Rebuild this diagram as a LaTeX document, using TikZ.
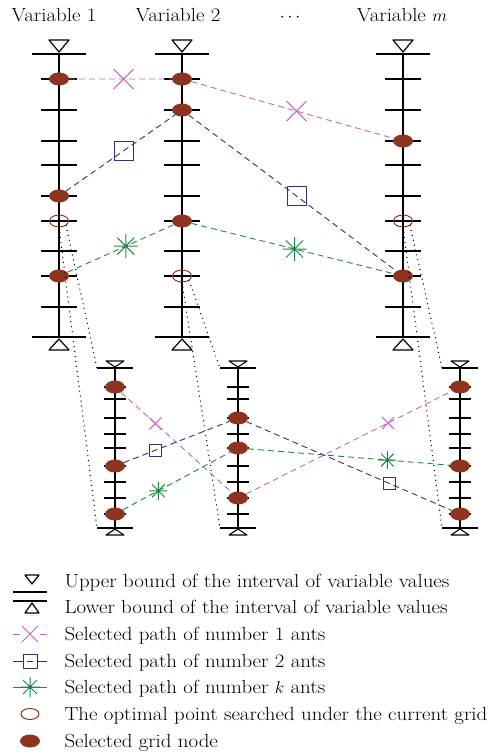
\documentclass[tikz,border=0pt]{standalone}
\usepackage{fontspec}
\setmainfont{Latin Modern Roman}[FakeStretch=1.1]
\usetikzlibrary{shapes.geometric}
\definecolor{gridbrown}{RGB}{140,52,32}
\definecolor{antpink}{RGB}{200,100,190}
\definecolor{antblue}{RGB}{45,45,135}
\definecolor{antgreen}{RGB}{30,135,70}
\begin{document}
\begin{tikzpicture}[x=1pt, y=-1pt, line join=round, font=\fontsize{19}{21}\selectfont,
	selnode/.style={ellipse, fill=gridbrown, minimum width=20pt, minimum height=13pt, inner sep=0pt},
	optnode/.style={ellipse, draw=gridbrown, line width=1pt, minimum width=19pt, minimum height=12pt, inner sep=0pt},
	pathA/.style={antpink, line width=0.9pt, dash pattern=on 6pt off 4pt},
	pathB/.style={antblue, line width=0.9pt, dash pattern=on 6pt off 4pt},
	pathK/.style={antgreen, line width=0.9pt, dash pattern=on 6pt off 4pt},
	bounds/.style={line width=1.4pt, line cap=round, dash pattern=on 0pt off 5pt},
	antx/.pic={\draw[antpink, solid, line width=1pt] (-#1pt,-#1pt) -- (#1pt,#1pt) (-#1pt,#1pt) -- (#1pt,-#1pt);},
	antsq/.pic={\draw[antblue, solid, line width=1pt] (-#1pt,-#1pt) rectangle (#1pt,#1pt);},
	antstar/.pic={\draw[antgreen, solid, line width=1pt] (-#1pt,0pt) -- (#1pt,0pt) (0pt,-#1pt) -- (0pt,#1pt)
		(-0.71*#1pt,-0.71*#1pt) -- (0.71*#1pt,0.71*#1pt) (-0.71*#1pt,0.71*#1pt) -- (0.71*#1pt,-0.71*#1pt);}]
	\useasboundingbox (0,0) rectangle (489,754);
	\node[anchor=base] (v1) at (54,22) {Variable 1};
	\node[anchor=base] (v2) at (178,22) {Variable 2};
	\node[anchor=base] (vdots) at (290,22) {$\cdots$};
	\node[anchor=base] (vm) at (402,22) {Variable $m$};
	% top grid
	\foreach \x/\n in {59/1,182/2,403/m} {
		\draw[line width=1.6pt] (\x,54) -- (\x,337);
		\draw[line width=2pt] (\x-27,54) -- (\x+27,54) (\x-27,337) -- (\x+27,337);
		\foreach \y in {79,110,141,165,196,221,251,276,307}
			\draw[line width=1.6pt] (\x-18,\y) -- (\x+18,\y);
		\draw[line width=1.2pt] (\x-10,40) -- (\x+10,40) -- (\x,52) -- cycle;
		\draw[line width=1.2pt] (\x,339) -- (\x+10,350) -- (\x-10,350) -- cycle;
	}
	% refined grid
	\foreach \x/\n in {115/1,238/2,460/3} {
		\draw[line width=1.4pt] (\x,368) -- (\x,528);
		\draw[line width=2pt] (\x-18,368) coordinate (b\n tl) -- (\x+18,368) (\x-18,528) coordinate (b\n bl) -- (\x+18,528);
		\foreach \y in {387,399,418,434,448,466,482,498,514}
			\draw[line width=1.4pt] (\x-11,\y) -- (\x+11,\y);
		\draw[line width=1.1pt] (\x-9,361) -- (\x+9,361) -- (\x,367) -- cycle;
		\draw[line width=1.1pt] (\x,529) -- (\x+9,535) -- (\x-9,535) -- cycle;
	}
	\node[selnode] (t1a) at (59,79) {};
	\node[selnode] (t1b) at (59,196) {};
	\node[optnode] (t1o) at (59,221) {};
	\node[selnode] (t1c) at (59,276) {};
	\node[selnode] (t2a) at (182,79) {};
	\node[selnode] (t2b) at (182,110) {};
	\node[selnode] (t2c) at (182,221) {};
	\node[optnode] (t2o) at (182,276) {};
	\node[selnode] (tma) at (403,141) {};
	\node[optnode] (tmo) at (403,221) {};
	\node[selnode] (tmb) at (403,276) {};
	\node[selnode] (b1a) at (115,387) {};
	\node[selnode] (b1b) at (115,466) {};
	\node[selnode] (b1c) at (115,514) {};
	\node[selnode] (b2a) at (238,418) {};
	\node[selnode] (b2b) at (238,448) {};
	\node[selnode] (b2c) at (238,498) {};
	\node[selnode] (b3a) at (460,387) {};
	\node[selnode] (b3b) at (460,466) {};
	\node[selnode] (b3c) at (460,514) {};
	\draw[bounds] (t1o.south east) -- (b1tl);
	\draw[bounds] (t1o.south) -- (b1bl);
	\draw[bounds] (t2o.south east) -- (b2tl);
	\draw[bounds] (t2o.south) -- (b2bl);
	\draw[bounds] (tmo.south east) -- (b3tl);
	\draw[bounds] (tmo.south) -- (b3bl);
	\draw[pathA] (t1a) -- coordinate[pos=.53] (ta1) (t2a) -- coordinate[pos=.52] (ta2) (tma);
	\draw[pathB] (t1b) -- coordinate[pos=.53] (tb1) (t2b) -- coordinate[pos=.52] (tb2) (tmb);
	\draw[pathK] (t1c) -- coordinate[pos=.55] (tk1) (t2c) -- coordinate[pos=.51] (tk2) (tmb);
	\draw[pathA] (b1a) -- coordinate[pos=.31] (ba1) (b2c) -- coordinate[pos=.69] (ba2) (b3a);
	\draw[pathB] (b1b) -- coordinate[pos=.30] (bb1) (b2a) -- coordinate[pos=.70] (bb2) (b3c);
	\draw[pathK] (b1c) -- coordinate[pos=.33] (bk1) (b2b) -- coordinate[pos=.69] (bk2) (b3b);
	\pic at (ta1) {antx=10};
	\pic at (ta2) {antx=10};
	\pic at (tb1) {antsq=9.5};
	\pic at (tb2) {antsq=9.5};
	\pic at (tk1) {antstar=12};
	\pic at (tk2) {antstar=12};
	\pic at (ba1) {antx=6};
	\pic at (ba2) {antx=6};
	\pic at (bb1) {antsq=6};
	\pic at (bb2) {antsq=6};
	\pic at (bk1) {antstar=9};
	\pic at (bk2) {antstar=9};
	% legend
	\draw[line width=1.2pt] (25,575) -- (39,575) -- (32,584) -- cycle;
	\draw[line width=1.2pt] (13,592) -- (47,592);
	\draw[line width=1.2pt] (13,601) -- (47,601);
	\draw[line width=1.2pt] (32,603) -- (39,613) -- (25,613) -- cycle;
	\draw[antpink, line width=0.9pt] (13,634) -- (20,634) (40,634) -- (47,634);
	\pic at (30,634) {antx=8};
	\draw[antblue, line width=0.9pt] (13,661) -- (23,661) (27,661) -- (33,661) (37,661) -- (47,661);
	\pic at (30,661) {antsq=7};
	\draw[antgreen, line width=0.9pt] (13,687) -- (47,687);
	\fill[antgreen] (30,687) circle (1.8pt);
	\pic at (30,687) {antstar=10};
	\node[optnode, minimum width=18pt, minimum height=11pt] (lg6) at (30,714) {};
	\node[selnode] (lg7) at (30,741) {};
	\node[anchor=base west] (leg1) at (61,587) {Upper bound of the interval of variable values};
	\node[anchor=base west] (leg2) at (61,613) {Lower bound of the interval of variable values};
	\node[anchor=base west] (leg3) at (61,640) {Selected path of number 1 ants};
	\node[anchor=base west] (leg4) at (61,667) {Selected path of number 2 ants};
	\node[anchor=base west] (leg5) at (61,693) {Selected path of number $k$ ants};
	\node[anchor=base west] (leg6) at (61,720) {The optimal point searched under the current grid};
	\node[anchor=base west] (leg7) at (61,747) {Selected grid node};
\end{tikzpicture}
\end{document}
